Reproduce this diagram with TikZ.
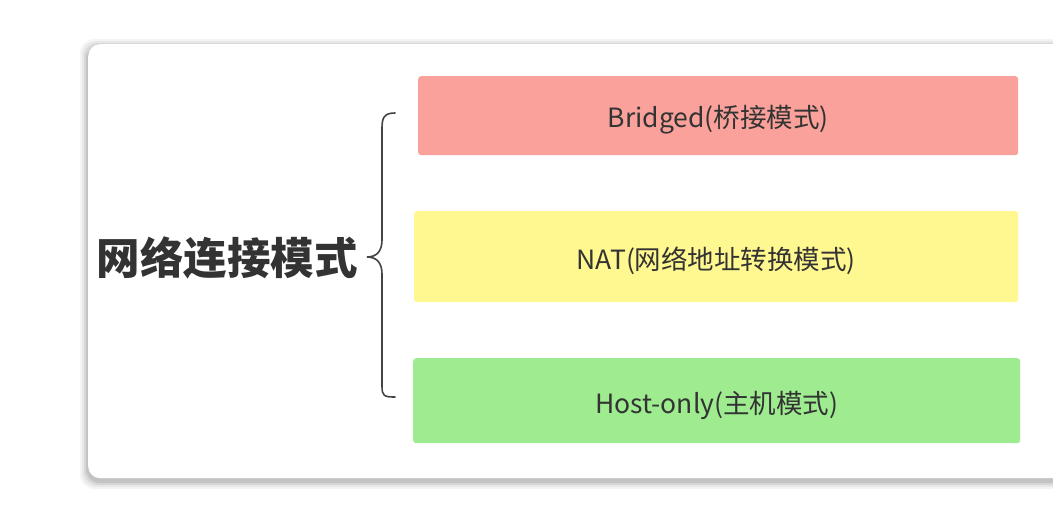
\documentclass[tikz,border=0pt]{standalone}
\usepackage{fontspec}
\setmainfont{Noto Sans CJK SC}
\definecolor{txt}{HTML}{333333}
\definecolor{redbox}{HTML}{F9A19A}
\definecolor{yellowbox}{HTML}{FFF78F}
\definecolor{greenbox}{HTML}{9EEB90}
\definecolor{bracec}{HTML}{444444}
\tikzset{
  modebox/.style={rounded corners=3pt, anchor=north west, inner sep=0pt, draw=none},
  modelabel/.style={text=txt, font=\fontsize{26.5}{30}\selectfont},
}
\begin{document}
\begin{tikzpicture}[x=1pt,y=-1pt]
\useasboundingbox (0,0) rectangle (1053,513);
\clip (0,0) rectangle (1053,513);
\fill[white] (0,0) rectangle (1053,513);
% card shadow (soft layers)
\foreach \d/\o in {8/0.04,6/0.05,4/0.07,2/0.09}{
  \fill[black, opacity=\o, rounded corners=14pt] (88-\d,44-\d+3) rectangle (1100+\d,478+\d+3);
}
\node[modebox, fill=white, rounded corners=12pt, minimum width=1010pt, minimum height=434pt] (card) at (88,44) {};
% boxes
\node[modebox, fill=redbox, minimum width=600pt, minimum height=79pt] (bridged) at (418,76) {};
\node[modebox, fill=yellowbox, minimum width=604pt, minimum height=91pt] (nat) at (414,211) {};
\node[modebox, fill=greenbox, minimum width=607pt, minimum height=85pt] (host) at (413,358) {};
\node[modelabel] (tb) at ([yshift=-4pt]bridged.center) {Bridged(桥接模式)};
\node[modelabel] (tn) at ([yshift=-4pt]nat.center) {NAT(网络地址转换模式)};
\node[modelabel] (th) at ([yshift=-5pt]host.center) {Host-only(主机模式)};
% title
\node[text=txt, font=\fontsize{43.5}{48}\selectfont\bfseries] (title) at (227,258) {网络连接模式};
% brace
\coordinate (btop) at (395,113);
\coordinate (bbot) at (395,397);
\coordinate (btip) at (367,257);
\draw[bracec, line width=1.6pt, line cap=round]
  (btop) .. controls (384,113) and (382,118) .. (382,128)
  -- (382,240) .. controls (382,252) and (376,257) .. (btip)
  .. controls (376,257) and (382,262) .. (382,274)
  -- (382,386) .. controls (382,396) and (384,397) .. (bbot);
\end{tikzpicture}
\end{document}
